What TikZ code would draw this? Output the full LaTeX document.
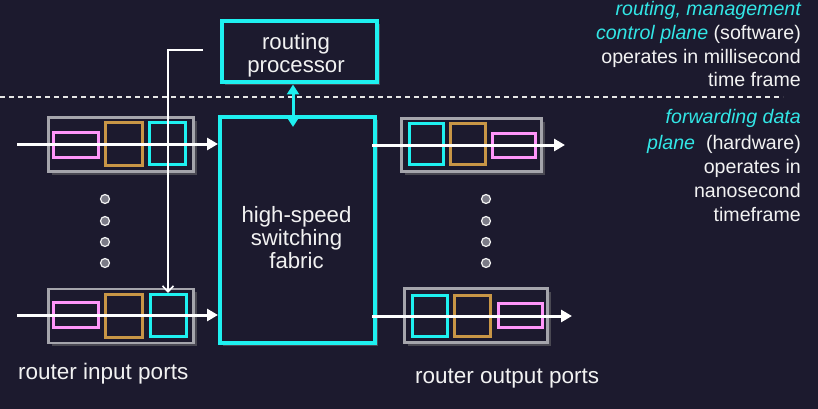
\documentclass[tikz,border=0pt]{standalone}
\usepackage{fontspec}
\setmainfont{Liberation Sans}
\usetikzlibrary{arrows.meta,shadows}

\definecolor{bg}{RGB}{28,26,46}
\definecolor{neon}{RGB}{30,240,240}
\definecolor{neontext}{RGB}{50,230,230}
\definecolor{pinkq}{RGB}{255,150,250}
\definecolor{goldq}{RGB}{200,150,70}
\definecolor{portgray}{RGB}{165,165,172}
\definecolor{dotgray}{RGB}{122,122,134}
\definecolor{offwhite}{RGB}{242,242,242}

\tikzset{
  glow/.style={drop shadow={shadow xshift=3pt,shadow yshift=-3pt,opacity=.45,fill=gray}},
  mainbox/.style={draw=neon,line width=4pt,fill=bg,glow},
  portbox/.style={draw=portgray,line width=2.6pt,fill=bg,glow,minimum width=145pt,minimum height=54pt},
  qbox/.style={line width=3pt,fill=bg,inner sep=0pt},
  pinkbox/.style={qbox,draw=pinkq,minimum width=45pt,minimum height=25pt},
  goldbox/.style={qbox,draw=goldq,minimum width=37pt,minimum height=43pt},
  cyanbox/.style={qbox,draw=neon,minimum width=36pt,minimum height=42pt},
  flow/.style={draw=white,line width=3pt,-{Triangle[length=11pt,width=12pt]}},
  ctrl/.style={draw=white,line width=1.6pt,-{Straight Barb[length=6pt,width=11pt,line width=1.6pt]}},
  dotmark/.style={circle,draw=offwhite,fill=dotgray,line width=1.2pt,minimum size=9pt,inner sep=0pt},
  boxtext/.style={text=offwhite,align=center,inner sep=0pt,font=\fontsize{22.2}{23}\selectfont},
  sidetext/.style={text=offwhite,anchor=base east,inner sep=0pt,font=\fontsize{19.6}{23}\selectfont},
  porttext/.style={text=offwhite,anchor=base west,inner sep=0pt,font=\fontsize{22.5}{24}\selectfont},
}

\begin{document}
\begin{tikzpicture}[x=1pt,y=-1pt]
  % canvas
  \fill[bg] (0,0) rectangle (818,409);
  \useasboundingbox (0,0) rectangle (818,409);

  % control / data plane separator
  \coordinate (sepL) at (0,97);
  \coordinate (sepR) at (783,97);
  \draw[white!80!gray,line width=1.3pt,dash pattern=on 5pt off 4pt] (sepL) -- (sepR);

  % routing processor and switching fabric
  \node[mainbox,minimum width=155pt,minimum height=61pt] (rp) at (299,52) {};
  \node[boxtext] (rptext) at (296,55) {routing\\processor};
  \node[mainbox,minimum width=155pt,minimum height=226pt] (fab) at (297.5,230) {};
  \node[boxtext] (fabtext) at (296.5,237.5) {high-speed\\switching\\fabric};

  % input ports
  \node[portbox] (in1) at (121,144.5) {};
  \node[pinkbox] (in1p) at (76,145) {};
  \node[goldbox] (in1g) at (124,144) {};
  \node[cyanbox] (in1c) at (167.5,143.5) {};

  \node[portbox] (in2) at (121,316) {};
  \node[pinkbox] (in2p) at (76,315) {};
  \node[goldbox] (in2g) at (124,315.5) {};
  \node[cyanbox] (in2c) at (168,315.5) {};

  % output ports
  \node[portbox,minimum width=140pt,minimum height=53pt] (out1) at (471.5,145) {};
  \node[cyanbox,minimum width=34pt,minimum height=41pt] (out1c) at (426.5,144) {};
  \node[goldbox,minimum width=35pt,minimum height=41pt] (out1g) at (468,144) {};
  \node[pinkbox,minimum width=43pt,minimum height=24pt] (out1p) at (514,145.5) {};

  \node[portbox,minimum width=143pt,minimum height=54pt] (out2) at (476,315.5) {};
  \node[cyanbox,minimum width=35pt,minimum height=41pt] (out2c) at (430,315.5) {};
  \node[goldbox,minimum width=36pt,minimum height=41pt] (out2g) at (472.5,315.5) {};
  \node[pinkbox,minimum width=44pt,minimum height=24pt] (out2p) at (520.5,315.5) {};

  % ellipsis dots between the port rows
  \foreach \i/\y in {1/199,2/221,3/242,4/263}{
    \node[dotmark] (idot\i) at (105,\y) {};
    \node[dotmark] (odot\i) at (486,\y) {};
  }

  % datagram flow through input ports into the fabric
  \coordinate (in1start) at (17,144);
  \coordinate (in2start) at (17,315);
  \draw[flow] (in1start) -- (in1start -| fab.west);
  \draw[flow] (in2start) -- (in2start -| fab.west);

  % datagram flow out of the fabric through output ports
  \coordinate (out1start) at (372,145);
  \coordinate (out1end) at (565,145);
  \coordinate (out2start) at (372,316);
  \coordinate (out2end) at (572,316);
  \draw[flow] (out1start) -- (out1end);
  \draw[flow] (out2start) -- (out2end);

  % forwarding table pushed from the routing processor to the input port
  \coordinate (ctlstart) at (203,50);
  \draw[ctrl] (ctlstart) -| (in2c.north);

  % routing processor <-> fabric link
  \draw[neon,line width=3pt,{Triangle[length=10pt,width=12pt]}-{Triangle[length=10pt,width=12pt]}]
    ([xshift=-6pt]rp.south) -- ([xshift=-4.5pt,yshift=-12pt]fab.north);

  % plane descriptions
  \node[sidetext] (c1) at (801,15.5) {\color{neontext}\itshape routing, management};
  \node[sidetext] (c2) at (801,40) {{\color{neontext}\itshape control plane} (software)};
  \node[sidetext] (c3) at (801,64) {operates in millisecond};
  \node[sidetext] (c4) at (801,87) {time frame};
  \node[sidetext] (d1) at (801,124) {\color{neontext}\itshape forwarding data};
  \node[sidetext] (d2) at (801,149) {{\color{neontext}\itshape plane}\ \ (hardware)};
  \node[sidetext] (d3) at (801,173) {operates in};
  \node[sidetext] (d4) at (801,197) {nanosecond};
  \node[sidetext] (d5) at (801,221) {timeframe};

  % port group captions
  \node[porttext] (inlabel) at (18,379) {router input ports};
  \node[porttext] (outlabel) at (415,383) {router output ports};
\end{tikzpicture}
\end{document}
